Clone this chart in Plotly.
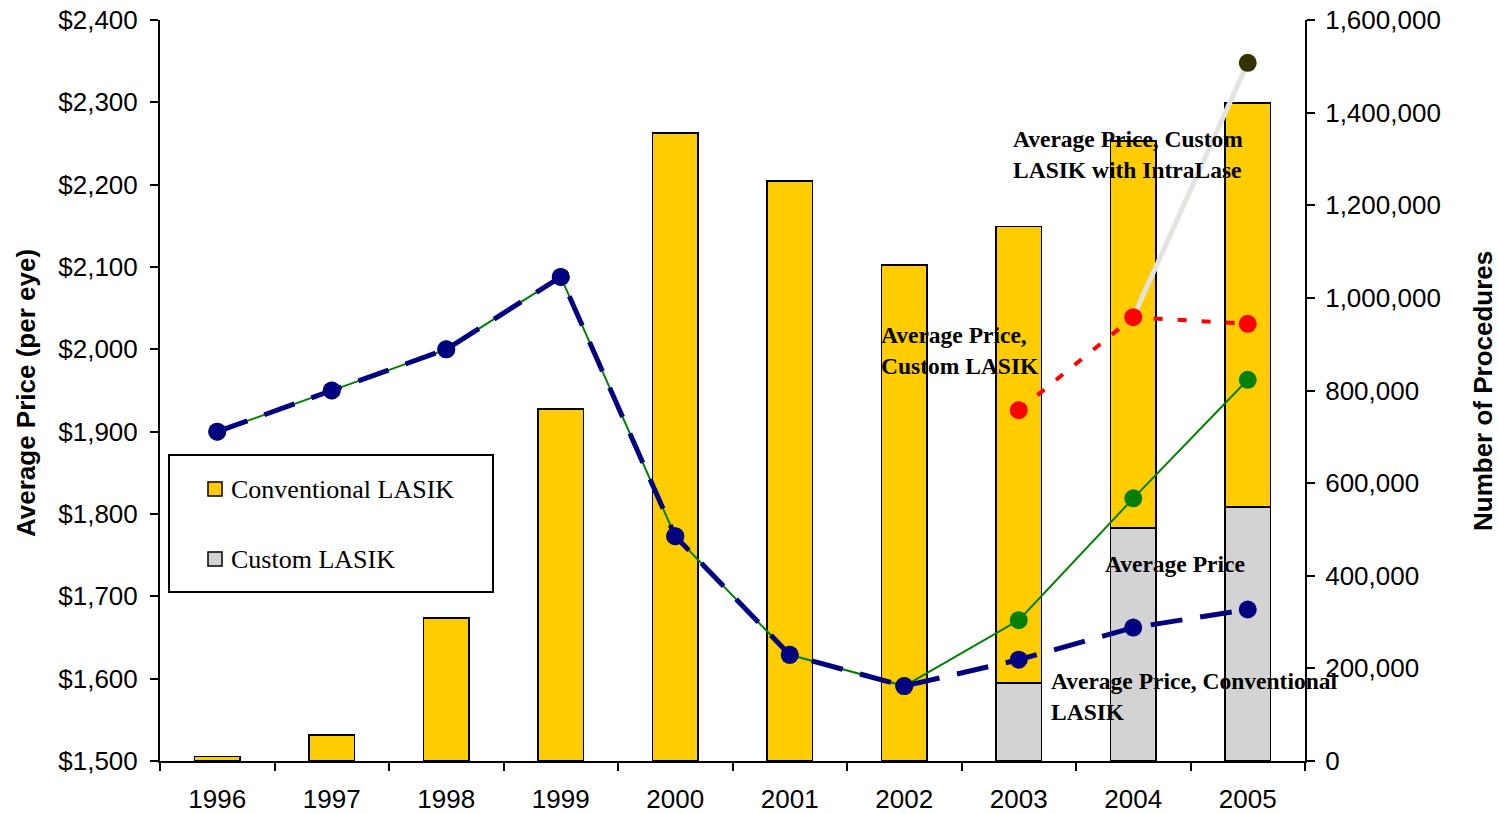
import plotly.graph_objects as go

years = ["1996", "1997", "1998", "1999", "2000", "2001", "2002", "2003", "2004", "2005"]
conventional_procs = [10000, 56000, 309000, 760000, 1356000, 1252000, 1071000, 986000, 836000, 873000]
custom_procs = [None, None, None, None, None, None, None, 168000, 503000, 548000]

avg_price_all = [1900, 1950, 2000, 2088, 1773, 1629, 1591, 1671, 1819, 1963]
avg_price_conv = [1900, 1950, 2000, 2088, 1773, 1629, 1591, 1623, 1662, 1684]
custom_years = ["2003", "2004", "2005"]
avg_price_custom = [1926, 2039, 2031]
intralase_years = ["2004", "2005"]
avg_price_intralase = [2039, 2348]

left_ticks = [1500, 1600, 1700, 1800, 1900, 2000, 2100, 2200, 2300, 2400]
left_labels = ["$1,500", "$1,600", "$1,700", "$1,800", "$1,900", "$2,000", "$2,100", "$2,200", "$2,300", "$2,400"]
right_ticks = [0, 200000, 400000, 600000, 800000, 1000000, 1200000, 1400000, 1600000]
right_labels = ["0", "200,000", "400,000", "600,000", "800,000", "1,000,000", "1,200,000", "1,400,000", "1,600,000"]

W, H = 1498, 814
L, R, T, B = 160, 1305, 20, 761


def px(x):
    return (x - L) / (R - L)


def py(y):
    return (B - y) / (B - T)


fig = go.Figure()

fig.add_trace(go.Bar(x=years, y=custom_procs, name="Custom LASIK", yaxis="y",
                     marker=dict(color="#D3D3D3", line=dict(color="black", width=1.5))))
fig.add_trace(go.Bar(x=years, y=conventional_procs, name="Conventional LASIK", yaxis="y",
                     marker=dict(color="#FFCC00", line=dict(color="black", width=1.5))))

fig.add_trace(go.Scatter(x=years, y=avg_price_all, yaxis="y2", mode="lines+markers",
                         line=dict(color="#008000", width=2),
                         marker=dict(color="#008000", size=18), name="Average Price"))
fig.add_trace(go.Scatter(x=years, y=avg_price_conv, yaxis="y2", mode="lines+markers",
                         line=dict(color="#000080", width=5, dash="32px,18px"),
                         marker=dict(color="#000080", size=18), name="Average Price, Conventional LASIK"))
fig.add_trace(go.Scatter(x=intralase_years, y=avg_price_intralase, yaxis="y2", mode="lines+markers",
                         line=dict(color="#E3E3DF", width=5),
                         marker=dict(color=["#E3E3DF", "#333300"], size=18),
                         name="Average Price, Custom LASIK with IntraLase"))
fig.add_trace(go.Scatter(x=custom_years, y=avg_price_custom, yaxis="y2", mode="lines+markers",
                         line=dict(color="#FF0000", width=4, dash="9px,15px"),
                         marker=dict(color="#FF0000", size=18), name="Average Price, Custom LASIK"))

axis_font = dict(family="Liberation Sans, Arial", size=26, color="black")

fig.update_layout(
    width=W, height=H,
    margin=dict(l=L, r=W - R, t=T, b=H - B, autoexpand=False),
    paper_bgcolor="white", plot_bgcolor="white",
    barmode="stack", bargap=0.6,
    showlegend=False,
    xaxis=dict(type="category", tickson="boundaries", ticks="outside", ticklen=8, tickwidth=2,
               tickcolor="black", showline=True, linecolor="black", linewidth=2, automargin=False,
               showgrid=False, tickfont=axis_font, ticklabelstandoff=14, range=[-0.5, 9.5]),
    yaxis=dict(side="right", range=[0, 1600000], tickvals=right_ticks, ticktext=right_labels,
               ticks="outside", ticklen=8, tickwidth=2, tickcolor="black", automargin=False,
               showline=True, linecolor="black", linewidth=2, showgrid=False, zeroline=False,
               tickfont=axis_font, ticklabelstandoff=5),
    yaxis2=dict(side="left", overlaying="y", range=[1500, 2400], tickvals=left_ticks,
                ticktext=left_labels, ticks="outside", ticklen=8, tickwidth=2, automargin=False,
                tickcolor="black", showline=True, linecolor="black", linewidth=2,
                showgrid=False, zeroline=False, tickfont=axis_font, ticklabelstandoff=7),
)

title_font = dict(family="Liberation Sans, Arial", size=26, color="black")
ann = []
ann.append(dict(text="<b>Average Price (per eye)</b>", x=px(26), y=py(393), xref="paper", yref="paper",
                textangle=-90, showarrow=False, font=title_font, xanchor="center", yanchor="middle"))
ann.append(dict(text="<b>Number of Procedures</b>", x=px(1483), y=py(391), xref="paper", yref="paper",
                textangle=-90, showarrow=False, font=title_font, xanchor="center", yanchor="middle"))

label_font = dict(family="Liberation Serif, Times New Roman", size=23.5, color="black")
for txt, x, y in [
    ("<b>Average Price, Custom<br>LASIK with IntraLase</b>", 1011, 154),
    ("<b>Average Price,<br>Custom LASIK</b>", 879, 350),
    ("<b>Average Price</b>", 1103, 564),
    ("<b>Average Price, Conventional<br>LASIK</b>", 1049, 696),
]:
    ann.append(dict(text=txt, x=px(x), y=py(y), xref="paper", yref="paper", showarrow=False,
                    font=label_font, xanchor="left", yanchor="middle", align="left"))

legend_font = dict(family="Liberation Serif, Times New Roman", size=26, color="black")
shapes = [dict(type="rect", xref="paper", yref="paper", x0=px(169), x1=px(493), y0=py(592), y1=py(455),
               line=dict(color="black", width=2), fillcolor="white", layer="above")]
for txt, color, yc in [("Conventional LASIK", "#FFCC00", 489), ("Custom LASIK", "#D3D3D3", 559)]:
    shapes.append(dict(type="rect", xref="paper", yref="paper", x0=px(208), x1=px(222),
                       y0=py(yc + 7), y1=py(yc - 7), line=dict(color="black", width=1.5),
                       fillcolor=color, layer="above"))
    ann.append(dict(text=txt, x=px(229), y=py(yc), xref="paper", yref="paper", showarrow=False,
                    font=legend_font, xanchor="left", yanchor="middle"))

fig.update_layout(annotations=ann, shapes=shapes)
fig.write_html("out.html")
